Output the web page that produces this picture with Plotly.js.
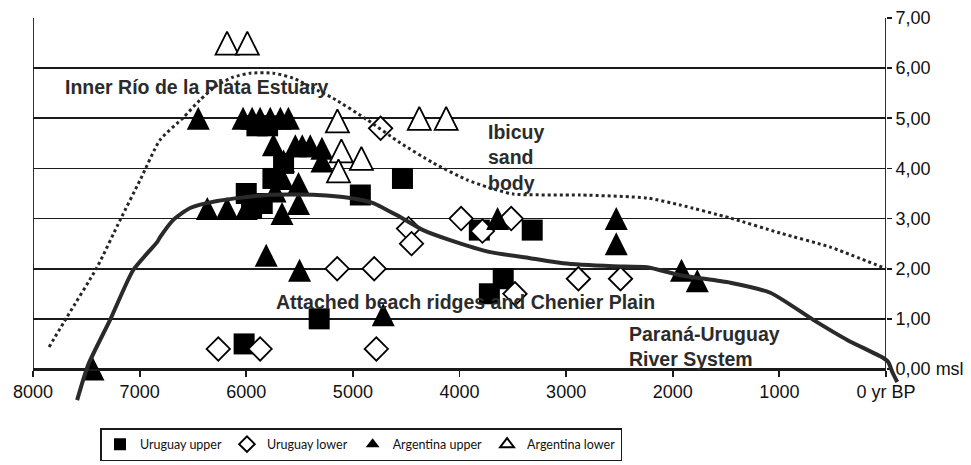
<!DOCTYPE html>
<html>
<head>
<meta charset="utf-8">
<script src="https://cdn.plot.ly/plotly-3.0.1.min.js"></script>
<style>html,body{margin:0;padding:0;background:#fff;}#chart{width:971px;height:465px;}</style>
</head>
<body>
<div id="chart"></div>
<script>
// ---- data (age in years BP, elevation in m above msl) ----
const xTickVals = [8000, 7000, 6000, 5000, 4000, 3000, 2000, 1000, 0];
const xTickText = ["8000", "7000", "6000", "5000", "4000", "3000", "2000", "1000", "0 yr BP"];
const yTickVals = [0, 1, 2, 3, 4, 5, 6, 7];
const yTickText = ["0,00 msl", "1,00", "2,00", "3,00", "4,00", "5,00", "6,00", "7,00"];

const uruguayUpperAge  = [6000, 5900, 5800, 5850, 5950, 5750, 5650, 4930, 4535, 3814, 3318, 3590, 3720, 5316, 6020];
const uruguayUpperElev = [3.5, 4.85, 4.85, 3.3, 3.2, 3.8, 4.1, 3.47, 3.8, 2.77, 2.77, 1.8, 1.5, 1.0, 0.5];

const uruguayLowerAge  = [4740, 3985, 3785, 3515, 4478, 4450, 5147, 4800, 2885, 2490, 3480, 4780, 6262, 5870];
const uruguayLowerElev = [4.8, 3.0, 2.75, 3.0, 2.8, 2.5, 2.0, 2.0, 1.8, 1.8, 1.5, 0.4, 0.4, 0.4];

const argUpperAge  = [6450, 6030, 5945, 5870, 5775, 5680, 5605, 5745, 5540, 5475, 5400, 5290, 5290, 5650, 5660, 5730, 5510,
                      6365, 6180, 6000, 5665, 5510, 5813, 5500, 4715, 7437, 3643, 2530, 2530, 1918, 1770];
const argUpperElev = [5.0, 5.0, 5.0, 5.0, 5.0, 5.0, 5.0, 4.47, 4.45, 4.45, 4.45, 4.4, 4.15, 4.15, 3.8, 3.55, 3.7,
                      3.2, 3.2, 3.2, 3.1, 3.3, 2.27, 1.97, 1.08, 0.0, 3.0, 3.0, 2.5, 1.97, 1.76];

const argLowerAge  = [6180, 5990, 5145, 4377, 4125, 5108, 4920, 5135];
const argLowerElev = [6.5, 6.5, 4.95, 5.0, 5.0, 4.35, 4.2, 3.95];

// sea-level curves
const solidAge  = [7586, 7483, 7277, 7061, 6836, 6808, 6686, 6526, 6273, 5804, 5335, 5025, 4810, 4556, 4341, 4088, 3712,
                   3337, 3027, 2558, 2239, 1930, 1460, 1085, 682, 364, 25, -21, -59, -106];
const solidElev = [-0.62, 0.08, 0.98, 1.97, 2.53, 2.63, 2.97, 3.21, 3.35, 3.47, 3.47, 3.41, 3.31, 3.03, 2.77, 2.57, 2.33,
                   2.21, 2.11, 2.05, 2.03, 1.87, 1.72, 1.52, 0.98, 0.58, 0.22, 0.14, -0.06, -0.26];

const dottedAge  = [7849, 7680, 7399, 7183, 6995, 6808, 6592, 6432, 6273, 6123, 5963, 5747, 5560, 5335, 5185, 4866, 4556,
                    4247, 3928, 3740, 3496, 2868, 2239, 1930, 1460, 991, 522, 0];
const dottedElev = [0.44, 1.04, 2.03, 2.97, 3.77, 4.57, 5.01, 5.37, 5.66, 5.82, 5.90, 5.90, 5.80, 5.56, 5.40, 4.97, 4.51,
                    4.11, 3.77, 3.63, 3.49, 3.47, 3.41, 3.27, 3.01, 2.71, 2.43, 2.0];

// ---- chart ----
const INK = '#1a1a1a';
const TRI = 23;
const traces = [
  {type: 'scatter', mode: 'markers', name: 'Uruguay upper', x: uruguayUpperAge, y: uruguayUpperElev,
   marker: {symbol: 'square', size: 21, color: '#000', line: {width: 0}}},
  {type: 'scatter', mode: 'markers', name: 'Uruguay lower', x: uruguayLowerAge, y: uruguayLowerElev,
   marker: {symbol: 'diamond', size: 18, color: '#fff', line: {width: 1.8, color: '#000'}}},
  // legend entries for the triangle series (plot markers use a centred, taller triangle below)
  {type: 'scatter', mode: 'markers', name: 'Argentina upper', legendgroup: 'au', x: [null], y: [null],
   marker: {symbol: 'triangle-up', size: 12, color: '#000', line: {width: 0}}},
  {type: 'scatter', mode: 'markers', name: 'Argentina lower', legendgroup: 'al', x: [null], y: [null],
   marker: {symbol: 'triangle-up', size: 12, color: '#fff', line: {width: 1.8, color: '#000'}}},
  {type: 'scatter', mode: 'markers', name: 'Argentina upper', legendgroup: 'au', showlegend: false, x: argUpperAge, y: argUpperElev,
   marker: {symbol: 'arrow-down', angle: 180, standoff: TRI / 2, size: TRI, color: '#000', line: {width: 0}}},
  {type: 'scatter', mode: 'markers', name: 'Argentina lower', legendgroup: 'al', showlegend: false, x: argLowerAge, y: argLowerElev,
   marker: {symbol: 'arrow-down', angle: 180, standoff: TRI / 2, size: TRI, color: '#fff', line: {width: 1.8, color: '#000'}}},
  {type: 'scatter', mode: 'lines', name: 'dotted', showlegend: false, x: dottedAge, y: dottedElev,
   xaxis: 'x2', yaxis: 'y2', line: {color: '#262626', width: 3, dash: 'dot', shape: 'spline', smoothing: 0.6}},
  {type: 'scatter', mode: 'lines', name: 'solid', showlegend: false, x: solidAge, y: solidElev,
   xaxis: 'x2', yaxis: 'y2', line: {color: '#2a2a2a', width: 4, shape: 'spline', smoothing: 0.6}}
];

const ML = 33, MR = 71, MT = 18, MB = 60, W = 971, H = 465;
const plotW = W - ML - MR;            // 867
const mainFrac = 853 / plotW;         // main axis ends at 0 yr BP
const yMin = -0.718, yMax = 7;
const x2Min = 8000 - plotW * (8000 / 853);
const annFont = {family: 'Liberation Sans, Arial, sans-serif', size: 19.5, color: '#2b2b2b'};

const layout = {
  width: W, height: H,
  margin: {l: ML, r: MR, t: MT, b: MB, pad: 0},
  paper_bgcolor: '#fff', plot_bgcolor: 'rgba(0,0,0,0)',
  font: {family: 'Liberation Sans, Arial, sans-serif', size: 18, color: '#111'},
  showlegend: true,
  xaxis: {domain: [0, mainFrac], range: [8000, 0], anchor: 'free', position: -yMin / (yMax - yMin),
          tickvals: xTickVals, ticktext: xTickText, showgrid: false, zeroline: false,
          showline: true, linecolor: INK, linewidth: 1.8, ticks: 'outside', ticklen: 6, tickwidth: 1.8, tickcolor: INK,
          tickfont: {size: 18, color: '#111'}},
  yaxis: {domain: [0, 1], range: [yMin, yMax], anchor: 'x', side: 'right',
          tickvals: yTickVals, ticktext: yTickText, showgrid: true, gridcolor: INK, gridwidth: 1.8,
          zeroline: false, showline: false, ticks: 'outside', ticklen: 5, tickwidth: 1.8, tickcolor: INK,
          tickfont: {size: 18, color: '#111'}},
  xaxis2: {domain: [0, 1], range: [8000, x2Min], anchor: 'y2', visible: false},
  yaxis2: {domain: [0, 1], range: [yMin, yMax], anchor: 'x2', visible: false},
  shapes: [
    {type: 'line', xref: 'x', yref: 'y', x0: 8000, x1: 8000, y0: 0, y1: 7, layer: 'below', line: {color: INK, width: 1.8}},
    {type: 'line', xref: 'x', yref: 'y', x0: 0, x1: 0, y0: 0, y1: 7, layer: 'below', line: {color: INK, width: 1.8}}
  ],
  annotations: [
    {xref: 'x', yref: 'y', x: 7717, y: 5.62, xanchor: 'left', yanchor: 'middle', showarrow: false, align: 'left',
     text: '<b>Inner Río de la Plata Estuary</b>', font: annFont},
    {xref: 'x', yref: 'y', x: 3750, y: 4.21, xanchor: 'left', yanchor: 'middle', showarrow: false, align: 'left',
     text: '<b>Ibicuy<br>sand<br>body</b>', font: annFont},
    {xref: 'x', yref: 'y', x: 5739, y: 1.34, xanchor: 'left', yanchor: 'middle', showarrow: false, align: 'left',
     text: '<b>Attached beach ridges and Chenier Plain</b>', font: annFont},
    {xref: 'x', yref: 'y', x: 2427, y: 0.45, xanchor: 'left', yanchor: 'middle', showarrow: false, align: 'left',
     text: '<b>Paraná-Uruguay<br>River System</b>', font: annFont}
  ],
  legend: {orientation: 'h', xref: 'container', yref: 'container', x: 100 / W, y: 1 - 428 / H,
           xanchor: 'left', yanchor: 'top', bgcolor: '#fff', bordercolor: INK, borderwidth: 1.5,
           itemsizing: 'constant',
           font: {family: 'Lato, Liberation Sans, Arial, sans-serif', size: 12.5, color: '#111'}}
};

Plotly.newPlot('chart', traces, layout, {staticPlot: true, displayModeBar: false});
</script>
</body>
</html>
